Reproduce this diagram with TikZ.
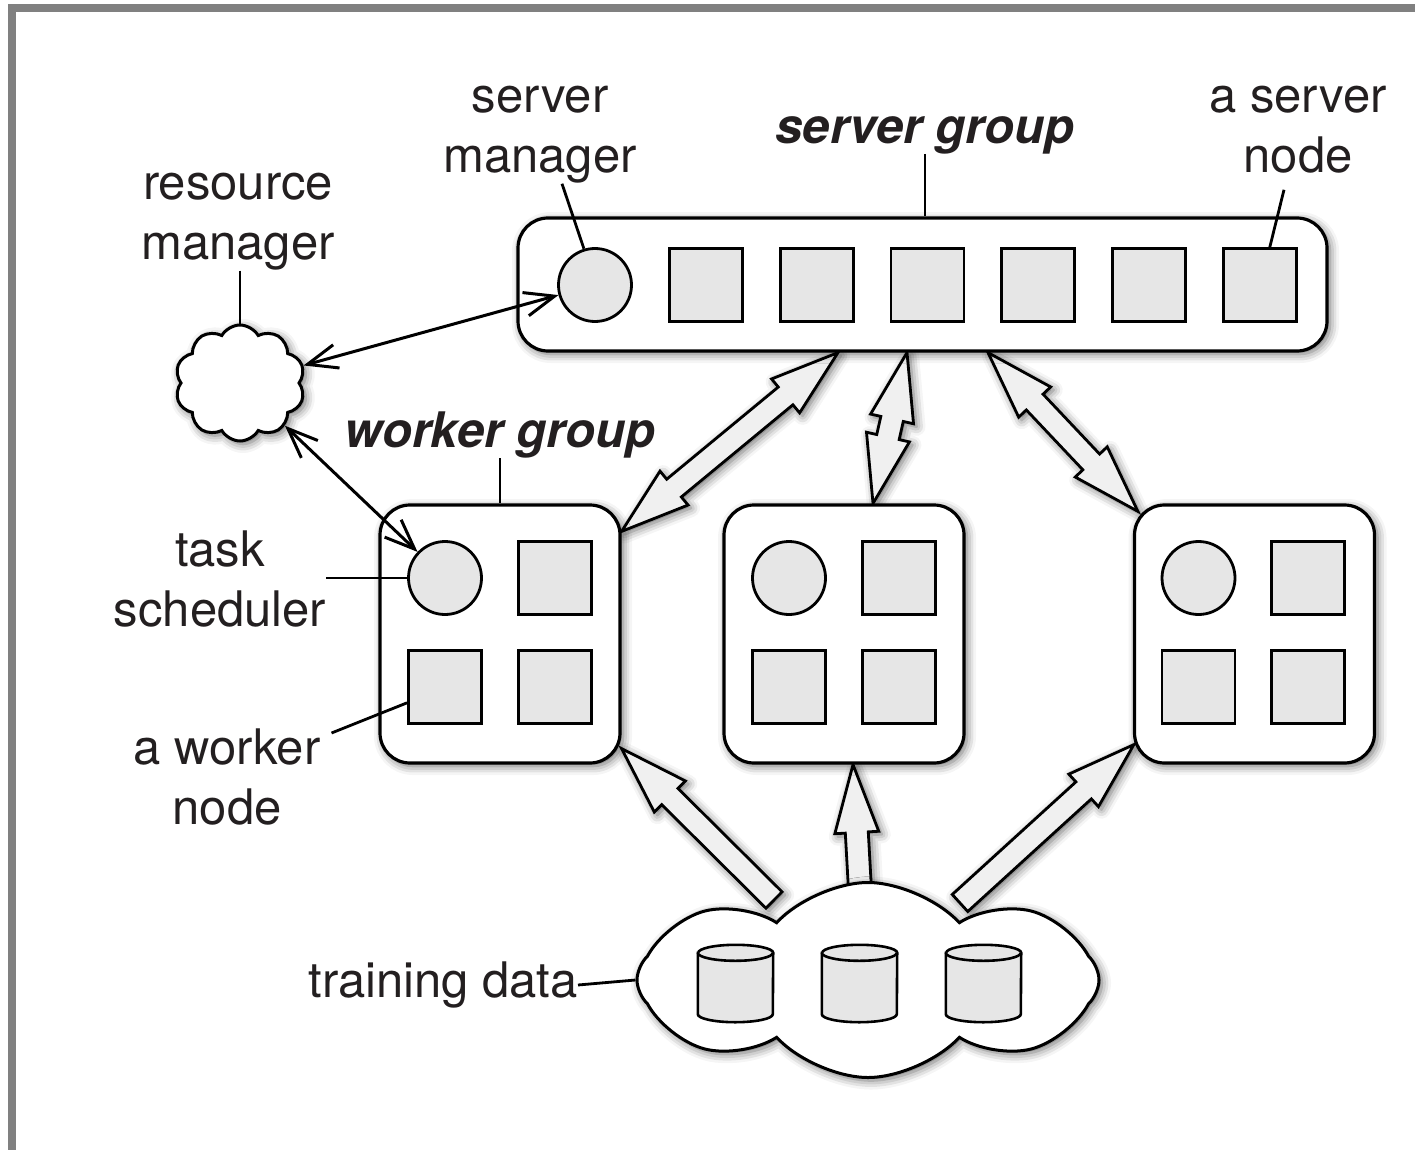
\documentclass[tikz,border=0pt]{standalone}
\usepackage{fontspec}
\setmainfont{TeX Gyre Heros}
\usepackage{tikz}
\usetikzlibrary{positioning, calc, arrows.meta, shapes.symbols, shadows.blur}
\pgfdeclarelayer{background}
\pgfsetlayers{background,main}
\definecolor{framegray}{HTML}{808080}
\definecolor{unitgray}{HTML}{E6E6E6}
\definecolor{fatgray}{HTML}{F0F0F0}
\definecolor{ink}{HTML}{231F20}
\newcommand{\LabelFont}{\fontsize{49}{60}\selectfont}
% fat arrow from #1 (tail) to #2 (tip)
\newcommand{\FatArrow}[2]{%
  \path #1 coordinate (fatA) #2 coordinate (fatB);
  \coordinate (fatH) at ($(fatB)!68pt!(fatA)$);
  \draw[fat] ($(fatA)!11.5pt!90:(fatB)$) -- ($(fatH)!11.5pt!90:(fatB)$)
    -- ($(fatH)!22pt!90:(fatB)$) -- (fatB) -- ($(fatH)!22pt!-90:(fatB)$)
    -- ($(fatH)!11.5pt!-90:(fatB)$) -- ($(fatA)!11.5pt!-90:(fatB)$) -- cycle;
}
% fat arrow with a head at both ends
\newcommand{\FatBiArrow}[2]{%
  \path #1 coordinate (fatA) #2 coordinate (fatB);
  \coordinate (fatH) at ($(fatA)!68pt!(fatB)$);
  \coordinate (fatK) at ($(fatB)!68pt!(fatA)$);
  \draw[fat] (fatA) -- ($(fatH)!22pt!90:(fatB)$) -- ($(fatH)!11.5pt!90:(fatB)$)
    -- ($(fatK)!11.5pt!90:(fatB)$) -- ($(fatK)!22pt!90:(fatB)$) -- (fatB)
    -- ($(fatK)!22pt!-90:(fatB)$) -- ($(fatK)!11.5pt!-90:(fatB)$)
    -- ($(fatH)!11.5pt!-90:(fatB)$) -- ($(fatH)!22pt!-90:(fatB)$) -- cycle;
}
% data drum drawn over a named node
\newcommand{\Drum}[1]{%
  \filldraw[drumline] ([yshift=-8pt]#1.north west) -- ([yshift=8pt]#1.south west)
    arc[start angle=180, end angle=360, x radius=37.5pt, y radius=8pt]
    -- ([yshift=-8pt]#1.north east)
    arc[start angle=0, end angle=180, x radius=37.5pt, y radius=8pt] -- cycle;
  \draw[drumline] ([yshift=-8pt]#1.north west)
    arc[start angle=180, end angle=360, x radius=37.5pt, y radius=8pt];
}
\tikzset{
    softshadow/.style={blur shadow={shadow xshift=3pt, shadow yshift=-3pt, shadow blur radius=9pt, shadow opacity=60}},
    group/.style={draw, line width=3.2pt, rounded corners=30pt, fill=white, inner sep=0pt, softshadow},
    mgr/.style={circle, draw, line width=2.8pt, fill=unitgray, minimum size=73pt, inner sep=0pt},
    unit/.style={rectangle, draw, line width=2.8pt, fill=unitgray, minimum size=73pt, inner sep=0pt},
    cloudy/.style={cloud, draw, line width=3pt, fill=white, cloud ignores aspect, inner sep=0pt, softshadow},
    drum/.style={rectangle, minimum width=75pt, minimum height=77pt, inner sep=0pt},
    drumline/.style={line width=2.6pt, fill=unitgray},
    lbl/.style={font=\LabelFont, text=ink, align=center, inner sep=0pt},
    glbl/.style={lbl, font=\LabelFont\bfseries\itshape},
    leader/.style={line width=2.8pt},
    link/.style={line width=3pt, {Straight Barb[length=30pt, width=24pt]}-{Straight Barb[length=30pt, width=24pt]}},
    fat/.style={line width=2.8pt, fill=fatgray, softshadow},
}
\begin{document}
\begin{tikzpicture}[x=1pt, y=-1pt]
    \useasboundingbox (0,0) rectangle (1415,1150);
    \fill[framegray] (8,4) rectangle (16,1150);
    \fill[framegray] (8,4) rectangle (1415,12);

    % server group
    \node[group, minimum width=809pt, minimum height=133pt] (sg) at (922.5,284.5) {};
    \node[mgr] (sm) at (595,285) {};
    \node[unit, right=35pt of sm] (s1) {};
    \node[unit, right=35pt of s1] (s2) {};
    \node[unit, right=35pt of s2] (s3) {};
    \node[unit, right=35pt of s3] (s4) {};
    \node[unit, right=35pt of s4] (s5) {};
    \node[unit, right=35pt of s5] (s6) {};

    % worker groups
    \node[group, minimum width=240pt, minimum height=258pt] (wg1) at (500,634) {};
    \node[group, minimum width=240pt, minimum height=258pt] (wg2) at (844,634) {};
    \node[group, minimum width=240pt, minimum height=258pt] (wg3) at (1254.5,634) {};

    \node[mgr] (t1) at ($(wg1)+(-55,-56)$) {};
    \node[unit, right=34pt of t1] (w1a) {};
    \node[unit, below=33pt of t1] (w1b) {};
    \node[unit, right=34pt of w1b] (w1c) {};

    \node[mgr] (t2) at ($(wg2)+(-55,-56)$) {};
    \node[unit, right=34pt of t2] (w2a) {};
    \node[unit, below=33pt of t2] (w2b) {};
    \node[unit, right=34pt of w2b] (w2c) {};

    \node[mgr] (t3) at ($(wg3)+(-56,-56)$) {};
    \node[unit, right=34pt of t3] (w3a) {};
    \node[unit, below=33pt of t3] (w3b) {};
    \node[unit, right=34pt of w3b] (w3c) {};

    % resource manager and training data
    \node[cloudy, cloud puffs=10, cloud puff arc=120, minimum width=130pt, minimum height=116pt] (rm) at (240,383) {};
    \node[cloudy, cloud puffs=8, cloud puff arc=95, minimum width=462pt, minimum height=195pt] (td) at (868,980) {};
    \node[drum] (d1) at (735.5,983.5) {};
    \node[drum] (d2) at (859.5,983.5) {};
    \node[drum] (d3) at (983.5,983.5) {};
    \Drum{d1}
    \Drum{d2}
    \Drum{d3}

    % labels
    \node[lbl] (smlab) at (540,135) {server\\manager};
    \node[glbl] (sglab) at (925,135) {server group};
    \node[lbl] (snlab) at (1298,130) {a server\\node};
    \node[lbl] (rmlab) at (238,222) {resource\\manager};
    \node[glbl] (wglab) at (500,435) {worker group};
    \node[lbl] (tslab) at (220,579) {task\\scheduler};
    \node[lbl] (wnlab) at (227,777) {a worker\\node};
    \node[lbl, anchor=east] (tdlab) at (578,985) {training data};

    \draw[leader] ([xshift=22pt]smlab.south) -- (sm.107);
    \draw[leader] (sglab.south) -- (sglab.south |- sg.north);
    \draw[leader] ([xshift=-14pt, yshift=-16pt]snlab.south) -- ([xshift=10pt]s6.north);
    \draw[leader] (rmlab.south -| rm.north) -- (rm.north);
    \draw[leader] (wglab.south) -- (wglab.south |- wg1.north);
    \draw[leader] (t1.west -| tslab.east) -- (t1.west);
    \draw[leader] ([xshift=11pt, yshift=44pt]wnlab.east) -- ([yshift=-16pt]w1b.west);
    \draw[leader] (tdlab.east) -- (td.west);

    % links to the resource manager
    \draw[link] (rm) -- (sm);
    \draw[link] (rm) -- (t1);

    \begin{pgfonlayer}{background}
    % push and pull
    \FatBiArrow{([xshift=-84.5pt]sg.south)}{([yshift=-28pt]wg1.north east)}
    \FatBiArrow{([xshift=-15.5pt]sg.south)}{([xshift=29pt]wg2.north)}
    \FatBiArrow{([xshift=65.5pt]sg.south)}{([shift={(5pt,-8pt)}]wg3.north west)}

    % data to the workers
    \FatArrow{([shift={(-94pt,80pt)}]td.center)}{([yshift=16pt]wg1.south east)}
    \FatArrow{([shift={(-8pt,90pt)}]td.center)}{([xshift=9pt]wg2.south)}
    \FatArrow{([shift={(92pt,77pt)}]td.center)}{([shift={(1pt,20pt)}]wg3.south west)}
    \end{pgfonlayer}
\end{tikzpicture}
\end{document}
